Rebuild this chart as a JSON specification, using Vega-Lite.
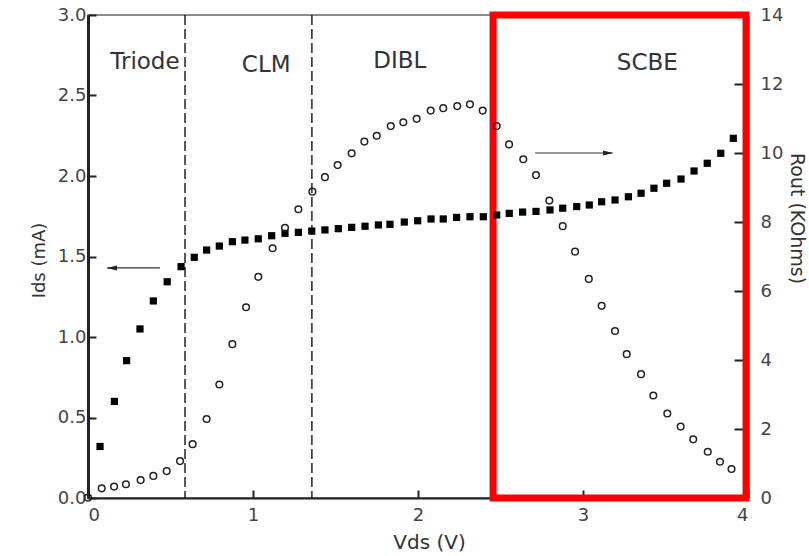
{
  "$schema": "https://vega.github.io/schema/vega-lite/v6.json",
  "width": 660,
  "height": 483,
  "autosize": {"type": "none"},
  "padding": {"left": 88, "top": 15, "right": 61, "bottom": 58},
  "background": "white",
  "config": {
    "font": "DejaVu Sans",
    "view": {"stroke": "#8a8a8a", "strokeWidth": 2},
    "axis": {
      "grid": false,
      "labelFont": "DejaVu Sans",
      "labelFontSize": 18,
      "labelColor": "#444",
      "titleFont": "DejaVu Sans",
      "titleFontWeight": "normal",
      "titleColor": "#333",
      "domainColor": "#222",
      "tickColor": "#222",
      "tickSize": -8,
      "tickWidth": 2
    },
    "axisLeft": {"domainWidth": 3, "labelPadding": 10, "titleFontSize": 18, "titleAngle": 270, "titleX": -49, "titleY": 245, "titleAlign": "center", "titleBaseline": "middle"},
    "axisRight": {"domainWidth": 2, "tickSize": -14, "labelPadding": 26, "titleFontSize": 19, "titleAngle": 90, "titleX": 48, "titleY": 203, "titleAlign": "center", "titleBaseline": "middle"},
    "axisBottom": {"domainWidth": 2, "labelPadding": 16, "titleFontSize": 20, "titleX": 341, "titleY": 50, "titleAlign": "center", "titleBaseline": "alphabetic"}
  },
  "datasets": {
    "ids": [
      {"v": 0.073, "ids": 0.32}, {"v": 0.16, "ids": 0.6}, {"v": 0.234, "ids": 0.853}, {"v": 0.315, "ids": 1.05},
      {"v": 0.396, "ids": 1.224}, {"v": 0.48, "ids": 1.343}, {"v": 0.564, "ids": 1.437}, {"v": 0.644, "ids": 1.495},
      {"v": 0.719, "ids": 1.54}, {"v": 0.796, "ids": 1.565}, {"v": 0.875, "ids": 1.592}, {"v": 0.951, "ids": 1.602},
      {"v": 1.032, "ids": 1.61}, {"v": 1.113, "ids": 1.629}, {"v": 1.194, "ids": 1.644}, {"v": 1.275, "ids": 1.65},
      {"v": 1.356, "ids": 1.658}, {"v": 1.436, "ids": 1.665}, {"v": 1.517, "ids": 1.673}, {"v": 1.598, "ids": 1.681},
      {"v": 1.679, "ids": 1.688}, {"v": 1.76, "ids": 1.696}, {"v": 1.83, "ids": 1.7}, {"v": 1.917, "ids": 1.714},
      {"v": 1.998, "ids": 1.722}, {"v": 2.079, "ids": 1.733}, {"v": 2.153, "ids": 1.733}, {"v": 2.234, "ids": 1.743},
      {"v": 2.315, "ids": 1.747}, {"v": 2.396, "ids": 1.747}, {"v": 2.477, "ids": 1.758}, {"v": 2.553, "ids": 1.768},
      {"v": 2.634, "ids": 1.776}, {"v": 2.715, "ids": 1.78}, {"v": 2.8, "ids": 1.789}, {"v": 2.877, "ids": 1.8},
      {"v": 2.962, "ids": 1.81}, {"v": 3.038, "ids": 1.82}, {"v": 3.113, "ids": 1.84}, {"v": 3.194, "ids": 1.851},
      {"v": 3.275, "ids": 1.871}, {"v": 3.352, "ids": 1.893}, {"v": 3.43, "ids": 1.924}, {"v": 3.507, "ids": 1.955},
      {"v": 3.594, "ids": 1.981}, {"v": 3.673, "ids": 2.031}, {"v": 3.753, "ids": 2.079}, {"v": 3.835, "ids": 2.141},
      {"v": 3.911, "ids": 2.234}
    ],
    "rout": [
      {"v": 0.0, "rout": 0.01}, {"v": 0.083, "rout": 0.28}, {"v": 0.158, "rout": 0.33}, {"v": 0.23, "rout": 0.4},
      {"v": 0.319, "rout": 0.52}, {"v": 0.396, "rout": 0.64}, {"v": 0.477, "rout": 0.78}, {"v": 0.558, "rout": 1.07},
      {"v": 0.634, "rout": 1.56}, {"v": 0.719, "rout": 2.29}, {"v": 0.796, "rout": 3.29}, {"v": 0.875, "rout": 4.46},
      {"v": 0.958, "rout": 5.53}, {"v": 1.032, "rout": 6.41}, {"v": 1.119, "rout": 7.24}, {"v": 1.194, "rout": 7.83},
      {"v": 1.275, "rout": 8.37}, {"v": 1.36, "rout": 8.88}, {"v": 1.436, "rout": 9.3}, {"v": 1.513, "rout": 9.65},
      {"v": 1.598, "rout": 9.99}, {"v": 1.675, "rout": 10.33}, {"v": 1.75, "rout": 10.5}, {"v": 1.835, "rout": 10.78},
      {"v": 1.911, "rout": 10.89}, {"v": 1.992, "rout": 10.99}, {"v": 2.077, "rout": 11.23}, {"v": 2.153, "rout": 11.3},
      {"v": 2.238, "rout": 11.36}, {"v": 2.315, "rout": 11.41}, {"v": 2.392, "rout": 11.23}, {"v": 2.477, "rout": 10.78},
      {"v": 2.552, "rout": 10.25}, {"v": 2.638, "rout": 9.82}, {"v": 2.715, "rout": 9.36}, {"v": 2.796, "rout": 8.62},
      {"v": 2.877, "rout": 7.88}, {"v": 2.952, "rout": 7.14}, {"v": 3.035, "rout": 6.35}, {"v": 3.113, "rout": 5.57},
      {"v": 3.194, "rout": 4.84}, {"v": 3.265, "rout": 4.17}, {"v": 3.352, "rout": 3.59}, {"v": 3.426, "rout": 2.97},
      {"v": 3.511, "rout": 2.45}, {"v": 3.592, "rout": 2.07}, {"v": 3.668, "rout": 1.7}, {"v": 3.756, "rout": 1.34},
      {"v": 3.83, "rout": 1.05}, {"v": 3.9, "rout": 0.84}
    ],
    "regions": [
      {"v": 0.345, "ids": 2.665, "label": "Triode"},
      {"v": 1.08, "ids": 2.646, "label": "CLM"},
      {"v": 1.89, "ids": 2.671, "label": "DIBL"},
      {"v": 3.39, "ids": 2.658, "label": "SCBE"}
    ],
    "bounds": [{"v": 0.588}, {"v": 1.357}],
    "box": [{"v1": 2.455, "v2": 3.988, "i1": 0, "i2": 3}],
    "arrows": [
      {"v1": 0.115, "v2": 0.436, "ids": 1.429},
      {"v1": 2.71, "v2": 3.18, "ids": 2.143}
    ],
    "heads": [
      {"v": 0.145, "ids": 1.429, "dir": "left"},
      {"v": 3.152, "ids": 2.143, "dir": "right"}
    ]
  },
  "layer": [
    {
      "layer": [
        {
          "data": {"name": "box"},
          "mark": {"type": "rect", "fill": null, "fillOpacity": 0, "stroke": "#ff0000", "strokeWidth": 7, "strokeJoin": "miter"},
          "encoding": {
            "x": {"field": "v1", "type": "quantitative", "scale": {"domain": [0, 4], "nice": false}, "title": "Vds (V)", "axis": {"values": [0, 1, 2, 3, 4], "format": "d"}},
            "x2": {"field": "v2"},
            "y": {"field": "i1", "type": "quantitative", "scale": {"domain": [0, 3], "nice": false}, "title": "Ids (mA)", "axis": {"orient": "left", "values": [0, 0.5, 1, 1.5, 2, 2.5, 3], "format": ".1f"}},
            "y2": {"field": "i2"}
          }
        },
        {
          "data": {"name": "bounds"},
          "mark": {"type": "rule", "stroke": "#000", "strokeWidth": 1.3, "strokeDash": [10, 4]},
          "encoding": {
            "x": {"field": "v", "type": "quantitative", "title": "Vds (V)"}
          }
        },
        {
          "data": {"name": "arrows"},
          "mark": {"type": "rule", "stroke": "#333", "strokeWidth": 1.2},
          "encoding": {
            "x": {"field": "v1", "type": "quantitative", "title": "Vds (V)"},
            "x2": {"field": "v2"},
            "y": {"field": "ids", "type": "quantitative", "title": "Ids (mA)"}
          }
        },
        {
          "data": {"name": "heads"},
          "mark": {"type": "point", "filled": true, "color": "#222", "size": 100, "opacity": 1},
          "encoding": {
            "x": {"field": "v", "type": "quantitative", "title": "Vds (V)"},
            "y": {"field": "ids", "type": "quantitative", "title": "Ids (mA)"},
            "shape": {"field": "dir", "type": "nominal", "legend": null, "scale": {"domain": ["left", "right"], "range": ["M -1 0 L 1 -0.5 L 1 0.5 Z", "M 1 0 L -1 -0.5 L -1 0.5 Z"]}}
          }
        },
        {
          "data": {"name": "ids"},
          "mark": {"type": "point", "shape": "square", "filled": true, "color": "#000", "size": 52, "opacity": 1},
          "encoding": {
            "x": {"field": "v", "type": "quantitative", "title": "Vds (V)"},
            "y": {"field": "ids", "type": "quantitative", "title": "Ids (mA)"}
          }
        },
        {
          "data": {"name": "regions"},
          "mark": {"type": "text", "font": "DejaVu Sans", "fontSize": 23, "color": "#333", "align": "center", "baseline": "alphabetic"},
          "encoding": {
            "x": {"field": "v", "type": "quantitative", "title": "Vds (V)"},
            "y": {"field": "ids", "type": "quantitative", "title": "Ids (mA)"},
            "text": {"field": "label"}
          }
        }
      ]
    },
    {
      "data": {"name": "rout"},
      "mark": {"type": "point", "shape": "circle", "filled": false, "stroke": "#222", "strokeWidth": 1.5, "size": 44, "opacity": 1},
      "encoding": {
        "x": {"field": "v", "type": "quantitative", "title": "Vds (V)"},
        "y": {"field": "rout", "type": "quantitative", "scale": {"domain": [0, 14], "nice": false}, "title": "Rout (KOhms)", "axis": {"orient": "right", "values": [0, 2, 4, 6, 8, 10, 12, 14]}}
      }
    }
  ],
  "resolve": {"scale": {"y": "independent"}}
}
